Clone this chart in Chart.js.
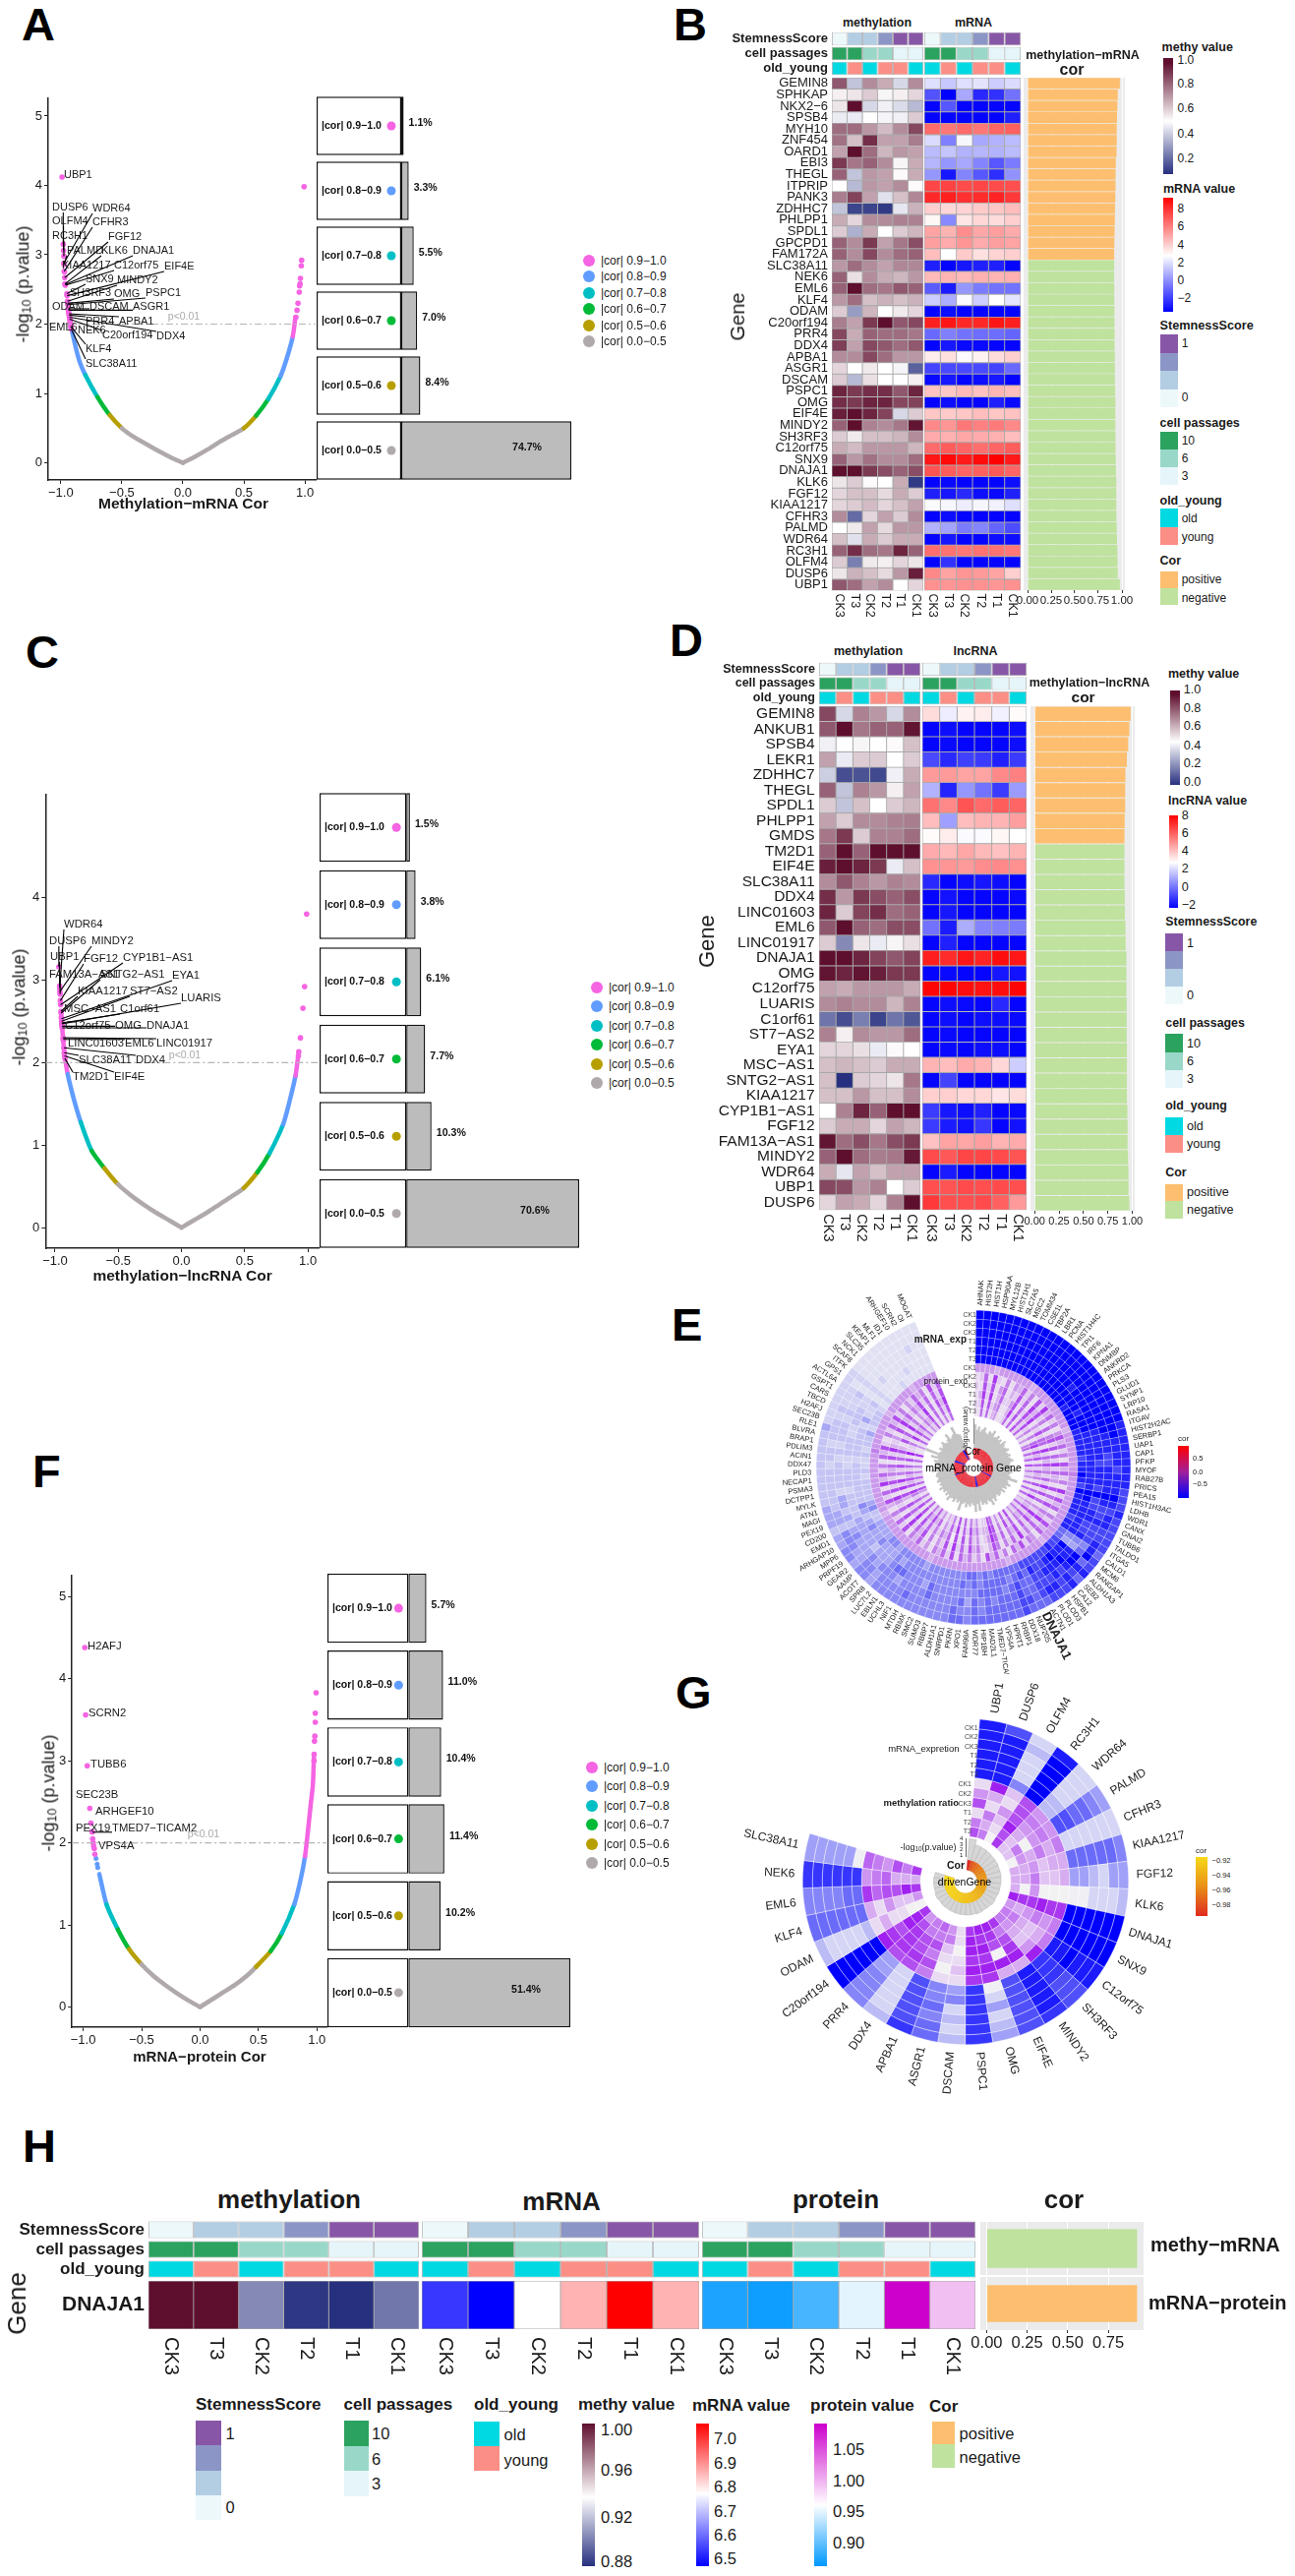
<!DOCTYPE html>
<html>
<head>
<meta charset="utf-8">
<title>DNAJA1 multi-omics panels</title>
<script src="https://cdn.jsdelivr.net/npm/chart.js@4"></script>
<style>
html, body { margin: 0; background: #fff; }
#page { position: relative; width: 1317px; height: 2619px; overflow: hidden; font-family: "Liberation Sans", Arial, sans-serif; }
canvas { position: absolute; }
.t { position: absolute; white-space: nowrap; line-height: 1; color: #1a1a1a; }
.b { position: absolute; }
sub { font-size: 70%; vertical-align: -15%; }
</style>
</head>
<body>
<div id="page"></div>
<script>
// ---------- shared categories ----------
var samples = ['CK3', 'T3', 'CK2', 'T2', 'T1', 'CK1'];
var binLabels = ['|cor| 0.9−1.0', '|cor| 0.8−0.9', '|cor| 0.7−0.8', '|cor| 0.6−0.7', '|cor| 0.5−0.6', '|cor| 0.0−0.5'];
var corTicks = [-1, -0.5, 0, 0.5, 1];
var pTicksFive = [0, 1, 2, 3, 4, 5];
var pTicksFour = [0, 1, 2, 3, 4];
var stemnessScore = [0, 0.33, 0.33, 0.67, 1, 1];
var cellPassages = [10, 10, 6, 6, 3, 3];
var ageGroup = ['old', 'young', 'old', 'young', 'young', 'old'];
var annotLabels = ['StemnessScore', 'cell passages', 'old_young'];

// ---------- panel A ----------
var pctA = [1.1, 3.3, 5.5, 7.0, 8.4, 74.7];
var curveLeftA = [[-0.925, 2.1], [-0.905, 1.875], [-0.85, 1.48], [-0.8, 1.27], [-0.7, 0.95], [-0.6, 0.69], [-0.5, 0.5], [-0.4, 0.37], [-0.3, 0.27], [-0.2, 0.17], [-0.1, 0.08], [0, 0]];
var curveRightA = [[0, 0], [0.1, 0.09], [0.2, 0.19], [0.3, 0.3], [0.4, 0.4], [0.5, 0.5], [0.6, 0.68], [0.7, 0.92], [0.8, 1.25], [0.85, 1.5], [0.9, 1.82], [0.922, 2.1]];
var dotsRightA = [[0.993, 3.98], [0.973, 2.92], [0.97, 2.84], [0.963, 2.66], [0.96, 2.58], [0.956, 2.55], [0.953, 2.46], [0.943, 2.3], [0.935, 2.2], [0.926, 2.1]];
var genesA = ['UBP1', 'DUSP6', 'OLFM4', 'RC3H1', 'WDR64', 'PALMD', 'CFHR3', 'KIAA1217', 'FGF12', 'KLK6', 'DNAJA1', 'SNX9', 'C12orf75', 'SH3RF3', 'MINDY2', 'EIF4E', 'OMG', 'PSPC1', 'DSCAM', 'ASGR1', 'ODAM', 'APBA1', 'PRR4', 'DDX4', 'C20orf194', 'NEK6', 'EML6', 'KLF4', 'SLC38A11'];
var corA = [-0.99, -0.98, -0.978, -0.975, -0.975, -0.974, -0.972, -0.97, -0.968, -0.966, -0.964, -0.95, -0.963, -0.948, -0.945, -0.948, -0.944, -0.943, -0.94, -0.938, -0.937, -0.933, -0.932, -0.93, -0.928, -0.925, -0.922, -0.92, -0.915];
var logpA = [4.12, 3.15, 3.06, 2.98, 2.88, 2.86, 2.76, 2.75, 2.67, 2.58, 2.57, 2.44, 2.56, 2.42, 2.33, 2.41, 2.3, 2.28, 2.22, 2.2, 2.18, 2.15, 2.13, 2.1, 2.07, 2.03, 2.0, 1.97, 1.93];
var labelXA = [65, 53, 53, 53, 94, 68, 94, 63, 110, 103, 135, 87, 116, 71, 119, 167, 116, 148, 91, 135, 53, 121, 87, 159, 104, 79, 50, 87, 87];
var labelYA = [178, 211, 225, 240, 212, 255, 226, 270, 241, 255, 255, 284, 270, 298, 285, 271, 299, 298, 312, 312, 312, 327, 327, 342, 341, 336, 333, 355, 370];

// ---------- panel C ----------
var pctC = [1.5, 3.8, 6.1, 7.7, 10.3, 70.6];
var curveLeftC = [[-0.945, 2.45], [-0.928, 2.15], [-0.9, 1.86], [-0.85, 1.55], [-0.797, 1.28], [-0.71, 0.93], [-0.61, 0.72], [-0.503, 0.525], [-0.4, 0.39], [-0.3, 0.28], [-0.2, 0.18], [-0.1, 0.09], [0, 0]];
var curveRightC = [[0, 0], [0.1, 0.09], [0.2, 0.18], [0.3, 0.28], [0.4, 0.38], [0.493, 0.48], [0.6, 0.67], [0.696, 0.9], [0.804, 1.25], [0.85, 1.5], [0.902, 1.84], [0.925, 2.1]];
var dotsRightC = [[0.99, 3.8], [0.974, 2.92], [0.961, 2.66], [0.941, 2.3], [0.928, 2.13], [0.925, 2.08]];
var genesC = ['DUSP6', 'UBP1', 'WDR64', 'MINDY2', 'FAM13A−AS1', 'FGF12', 'CYP1B1−AS1', 'KIAA1217', 'SNTG2−AS1', 'MSC−AS1', 'EYA1', 'ST7−AS2', 'C1orf61', 'LUARIS', 'C12orf75', 'OMG', 'DNAJA1', 'LINC01917', 'EML6', 'LINC01603', 'DDX4', 'SLC38A11', 'EIF4E', 'TM2D1'];
var corC = [-0.97, -0.964, -0.963, -0.962, -0.96, -0.958, -0.956, -0.953, -0.952, -0.95, -0.949, -0.948, -0.947, -0.946, -0.945, -0.944, -0.943, -0.936, -0.935, -0.934, -0.93, -0.927, -0.925, -0.922];
var logpC = [3.16, 2.93, 2.9, 2.86, 2.83, 2.75, 2.7, 2.62, 2.6, 2.55, 2.53, 2.5, 2.48, 2.47, 2.45, 2.44, 2.42, 2.3, 2.28, 2.27, 2.18, 2.12, 2.08, 2.05];
var labelXC = [50, 51, 65, 93, 50, 85, 125, 79, 102, 65, 175, 132, 122, 184, 66, 117, 149, 159, 127, 69, 138, 80, 116, 74];
var labelYC = [957, 973, 940, 957, 991, 975, 974, 1008, 991, 1026, 992, 1008, 1026, 1015, 1043, 1043, 1043, 1061, 1061, 1061, 1078, 1078, 1095, 1095];

// ---------- panel F ----------
var pctF = [5.7, 11.0, 10.4, 11.4, 10.2, 51.4];
var curveLeftF = [[-0.862, 1.62], [-0.8, 1.25], [-0.703, 0.945], [-0.608, 0.706], [-0.502, 0.52], [-0.4, 0.38], [-0.3, 0.27], [-0.2, 0.17], [-0.1, 0.08], [0, 0]];
var curveRightF = [[0, 0], [0.1, 0.09], [0.2, 0.18], [0.3, 0.27], [0.4, 0.38], [0.48, 0.49], [0.604, 0.68], [0.7, 0.9], [0.806, 1.25], [0.86, 1.55], [0.898, 1.835], [0.922, 2.13], [0.947, 2.47], [0.965, 2.7], [0.975, 3.08]];
var dotsRightF = [[0.993, 3.83], [0.986, 3.58], [0.986, 3.47], [0.982, 3.3], [0.979, 3.24], [0.976, 3.08], [0.975, 3.0]];
var dotsLeftF = [[-0.919, 2.05], [-0.915, 2.0], [-0.91, 1.96], [-0.9, 1.86]];
var dotsBlueF = [[-0.89, 1.81], [-0.88, 1.74], [-0.875, 1.7]];
var genesF = ['H2AFJ', 'SCRN2', 'TUBB6', 'SEC23B', 'ARHGEF10', 'PEX19', 'TMED7−TICAM2', 'VPS4A'];
var corF = [-0.986, -0.979, -0.965, -0.943, -0.933, -0.925, -0.921, -0.905];
var logpF = [4.38, 3.56, 2.94, 2.42, 2.24, 2.14, 2.13, 1.93];
var labelXF = [89, 90, 92, 77, 97, 77, 114, 100];
var labelYF = [1674, 1742, 1794, 1825, 1842, 1859, 1859, 1877];

// ---------- panel B ----------
var genesB = ['GEMIN8', 'SPHKAP', 'NKX2−6', 'SPSB4', 'MYH10', 'ZNF454', 'OARD1', 'EBI3', 'THEGL', 'ITPRIP', 'PANK3', 'ZDHHC7', 'PHLPP1', 'SPDL1', 'GPCPD1', 'FAM172A', 'SLC38A11', 'NEK6', 'EML6', 'KLF4', 'ODAM', 'C20orf194', 'PRR4', 'DDX4', 'APBA1', 'ASGR1', 'DSCAM', 'PSPC1', 'OMG', 'EIF4E', 'MINDY2', 'SH3RF3', 'C12orf75', 'SNX9', 'DNAJA1', 'KLK6', 'FGF12', 'KIAA1217', 'CFHR3', 'PALMD', 'WDR64', 'RC3H1', 'OLFM4', 'DUSP6', 'UBP1'];
var methyB = [
  [.82, .38, .72, .66, .42, .72], [.53, .55, .6, .52, .53, .58], [.55, 1, .42, .47, .43, .36], [.46, .46, .5, .48, .47, .6], [.78, .78, .7, .63, .72, .85],
  [.77, .62, .9, .68, .68, .75], [.68, 1, .78, .64, .7, .68], [.88, .76, .8, .72, .52, .66], [.8, .38, .7, .68, .51, .66], [.5, .36, .7, .68, .72, .51],
  [.75, .86, .68, .44, .62, .73], [.38, .12, .12, .1, .45, .65], [.66, .58, .72, .72, .74, .74], [.6, .34, .66, .5, .6, .64], [.8, .72, .88, .68, .76, .84],
  [.8, .72, .85, .72, .78, .8], [.7, .78, .72, .68, .73, .73], [.8, .56, .72, .66, .64, .7], [.8, .98, .78, .76, .82, .8], [.7, .78, .62, .65, .62, .65],
  [.6, .3, .64, .5, .54, .58], [.75, .68, .88, 1, .82, .85], [.85, .66, .8, .78, .78, .76], [.87, .68, .85, .82, .78, .82], [.72, .72, .85, .78, .7, .7],
  [.58, .5, .54, .5, .48, .18], [.6, .36, .56, .5, .5, .53], [.92, .88, .9, .9, .82, .92], [.9, .88, .92, .92, .85, .86], [.93, 1, .92, .86, .42, .6],
  [.8, 1, .74, .72, .76, .95], [.6, .54, .62, .62, .64, .72], [.66, .63, .7, .7, .7, .64], [.8, .7, .77, .72, .72, .78], [1, .98, .88, .84, .8, .84],
  [.55, .6, .51, .5, .66, .1], [.58, .62, .62, .57, .66, .6], [.58, .6, .63, .58, .62, .68], [.72, .2, .58, .68, .6, .72], [.5, .54, .68, .57, .7, .7],
  [.62, .44, .66, .6, .66, .66], [.8, .9, .78, .76, .92, .8], [.6, .24, .54, .53, .58, .55], [.55, .65, .62, .57, .7, .93], [.82, .78, .68, .72, .5, .58]
];
var mrnaB = [
  [2.4, 1.9, 2.4, 2.5, 2, 2.3], [-.7, -2.5, 1.2, -1.6, -1.4, 0], [-2.4, -.6, -2.4, -2.4, -2.4, -2.4], [-2.4, -2.4, -2.4, -2.4, -2.4, -1.8], [6.5, 6.2, 6.5, 6.2, 6.6, 6.7],
  [2.3, .3, 2.9, 1.2, 1.4, 1.6], [1.6, 1.8, 1.4, 1.5, 1.4, 1.6], [1.5, .8, 1.2, .4, -.6, .2], [.8, -2, .4, -.6, -1.5, .7], [7.3, 7.4, 7.2, 7.3, 7.2, 7.1],
  [8, 8.2, 7.8, 7.9, 8.1, 7.6], [4.2, 4, 4.1, 4.3, 4.4, 4.6], [3.3, .5, 3.7, 4, 3.9, 4.2], [5.2, 4.8, 5.7, 5.1, 5.3, 5], [5.3, 5, 5.5, 5, 5.3, 5.2],
  [4.6, 3.1, 4.3, 3.8, 4.1, 4.2], [-1.8, -2.4, -2, -1.8, -1.8, -2.4], [4.7, 4.8, 4.7, 4.9, 4.8, 4.9], [-.5, -1.9, .8, .2, 0, 0], [2, 1.3, 3, 2, 3.1, 2.5],
  [-2.4, -2.2, -2.4, -2.4, -2.4, -2.4], [8.2, 8.4, 8, 8, 8.4, 8.2], [-.2, .3, 0, -.1, -.1, -.3], [-2.4, -2, -2.3, -2.3, -2.4, -2.4], [3.5, 3.8, 3, 3.4, 3.9, 4.2],
  [-1, -.9, -.9, -.9, -1, -.2], [-2.3, -2, -2.4, -2.2, -2, -2.4], [4.5, 4.4, 4.7, 4.5, 4.8, 4.6], [-2.4, -2.2, -2.4, -2.4, -1.8, -2.3], [4.4, 4.3, 4.4, 4.6, 4.4, 4.5],
  [5.8, 5.5, 6.2, 6, 6.1, 5.8], [5, 4.9, 5.1, 5, 4.9, 4.6], [6.5, 6.8, 6.6, 6.4, 6.6, 6.8], [8.4, 8.7, 8.3, 8.6, 8.9, 8.3], [7, 6.8, 6.6, 6.7, 6.9, 6.6],
  [-2.4, -2.3, -2.4, -2.4, -2.4, -2.2], [-1.8, -2, -1.6, -2.2, -2.3, -1.8], [3, 2.9, 2.7, 2.9, 2.8, 2.4], [-2.4, -2.2, -2.4, -2.4, -2.4, -2.4], [1.4, 1.1, .2, .4, -.3, -.8],
  [-2.4, -2, -2.4, -2.4, -2.2, -2.2], [6.4, 6.3, 6.2, 6.3, 6.3, 6.2], [-2.4, -1.4, -2.4, -2.4, -2.4, -2.4], [5.8, 5.2, 5.5, 5.4, 5.2, 4.2], [5.6, 5.5, 5.6, 5.6, 5.5, 5.6]
];
var corB = [.978, .956, .952, .948, .945, .945, .943, .935, .933, .932, .93, .926, .925, .922, .92, .918,
  -.918, -.918, -.919, -.919, -.92, -.921, -.922, -.922, -.925, -.925, -.925, -.928, -.93, -.93, -.93, -.931, -.932, -.934, -.936, -.94, -.94, -.94, -.942, -.945, -.948, -.952, -.954, -.956, -.978];

// ---------- panel D ----------
var genesD = ['GEMIN8', 'ANKUB1', 'SPSB4', 'LEKR1', 'ZDHHC7', 'THEGL', 'SPDL1', 'PHLPP1', 'GMDS', 'TM2D1', 'EIF4E', 'SLC38A11', 'DDX4', 'LINC01603', 'EML6', 'LINC01917', 'DNAJA1', 'OMG', 'C12orf75', 'LUARIS', 'C1orf61', 'ST7−AS2', 'EYA1', 'MSC−AS1', 'SNTG2−AS1', 'KIAA1217', 'CYP1B1−AS1', 'FGF12', 'FAM13A−AS1', 'MINDY2', 'WDR64', 'UBP1', 'DUSP6'];
var methyD = [
  [.85, .42, .74, .7, .42, .72], [.82, 1, .76, .8, .8, .95], [.47, .5, .52, .5, .51, .62], [.68, .46, .6, .6, .5, .6], [.4, .14, .15, .13, .47, .66],
  [.8, .38, .74, .7, .53, .68], [.6, .38, .62, .5, .6, .64], [.68, .6, .72, .72, .74, .75], [.76, .88, .6, .74, .74, .78], [.8, 1, .8, .98, 1, 1],
  [.93, .98, .92, .88, .46, .62], [.72, .82, .74, .7, .74, .72], [.9, .7, .88, .84, .8, .84], [.92, .6, .86, .9, .78, .8], [.82, 1, .8, .78, .84, .84],
  [.6, .26, .55, .46, .52, .56], [1, 1, .92, .86, .82, .86], [.95, .92, .95, .93, .88, .88], [.68, .66, .7, .7, .7, .66], [.72, .74, .72, .72, .64, .74],
  [.22, .14, .24, .12, .22, .16], [.74, .53, .72, .7, .7, .78], [.58, .58, .56, .46, .51, .5], [.62, .64, .62, .6, .66, .66], [.62, .08, .6, .58, .55, .76],
  [.62, .62, .7, .62, .62, .72], [.5, .74, .92, .8, 1, .98], [.6, .66, .66, .58, .68, .64], [.95, .78, .84, .76, .84, .88], [.8, 1, .78, .75, .76, .94],
  [.66, .45, .68, .62, .68, .68], [.85, .84, .7, .74, .5, .6], [.58, .68, .66, .58, .74, .97]
];
var lncD = [
  [3.9, 2.7, 3.4, 3.5, 2.8, 3.2], [-2.4, -2.2, -2.4, -2.4, -2.4, -2.2], [-2.4, -2.3, -2.4, -2.4, -2.4, -2.2], [-.9, -1.6, -1.1, -1.2, -1.8, -1.2], [5.4, 5.4, 5.2, 5.2, 5.8, 6],
  [1.4, -1.7, .8, 0, -1.2, .9], [6.3, 5.8, 7, 6.5, 6.8, 6.6], [4.6, 1, 4.6, 4.8, 4.8, 5.3], [3.2, 3.5, 3, 3, 3.3, 3.1], [5, 4.7, 5.1, 4.7, 4.5, 4.8],
  [5.6, 5.5, 5.4, 5.7, 5.8, 5.6], [-1.6, -2.4, -2.2, -2, -2.2, -2.4], [-2.4, -2.1, -2.4, -2.4, -2.4, -2.3], [-2.4, -2, -2.4, -2.4, -2.4, -2.4], [0, -1.9, 1.3, .4, .3, .2],
  [-2.4, -1.8, -2.4, -2.4, -2.4, -2.4], [8.2, 7.9, 8.4, 8.1, 8.6, 8.4], [-2.4, -2.3, -2.4, -2.4, -2, -2.1], [8.8, 8.8, 8.6, 8.5, 8.6, 8.8], [-2.4, -2.2, -2.3, -2.4, -1.6, -2.4],
  [-2.4, -2.2, -2.4, -2.2, -2.2, -2.3], [-2.4, -2.3, -2.4, -2.4, -2.4, -2.4], [-2.4, -2.3, -2.4, -2.2, -2.2, -2.4], [4.8, 4.6, 5, 4.8, 4, 2], [-2.4, -1, -2.4, -2.4, -2.4, -2.4],
  [4.2, 4.2, 4, 4, 3.7, 3.9], [-1.2, -2, -2.2, -1.8, -2.4, -2.3], [-1.2, -1.9, -2.1, -1.3, -2.4, -2.1], [4.5, 5.2, 5.1, 5.3, 4.8, 5], [7.2, 6.9, 7.3, 7.3, 7.2, 7],
  [-2.4, -1.9, -2.4, -2.4, -2.4, -2.4], [7.1, 7, 7.2, 7.1, 7.2, 7.1], [7.6, 7.1, 7.1, 7.2, 6.7, 5.4]
];
var corD = [.983, .97, .958, .945, .93, .928, .928, .922, .92,
  -.92, -.92, -.92, -.923, -.925, -.93, -.932, -.94, -.94, -.94, -.943, -.943, -.943, -.945, -.945, -.945, -.945, -.95, -.952, -.952, -.957, -.96, -.962, -.97];

// ---------- panel H ----------
var methyH = [[1, 1, .905, .882, .88, .9]];
var mrnaH = [[6.56, 6.5, 6.78, 6.86, 7.05, 6.86]];
var proteinH = [[.89, .885, .905, .96, 1.09, 1]];
var corH = [-.928, .928];
var corLabelsH = ['methy−mRNA', 'mRNA−protein'];

// ---------- panel E ----------
var genesE = [
  'AHNAK', 'HIST2H', 'HIST1H', 'HSP90AA', 'MYL12B', 'HIST1H1', 'SLC7A5', 'MSC2', 'TOMM34', 'CSE1L',
  'TBP2A', 'LBR1', 'PCNA', 'HIST1H4C', 'TPI1', 'IRF6', 'KPNA1', 'DNMBP', 'ANKRD2', 'PRKCA',
  'PLS3', 'GLUD1', 'SYNP1', 'LRP10', 'RASA1', 'ITGAV', 'HIST2H2AC', 'SERBP1', 'UAP1', 'CAP1',
  'PFKP', 'MYOF', 'RAB27B', 'PRICS', 'PEA15', 'HIST1H3AC', 'LDHB', 'WDR1', 'CANX', 'GNAI2',
  'TUBB6', 'TALDO1', 'ITGA5', 'CALD1', 'MCM6', 'RANGAP1', 'ALDH1A3', 'SEB2', 'CA12', 'HSPB1',
  'PLOD3', 'PLOD1', 'ACTN1', 'DNAJA1', 'NUP205', 'DDX18', 'RRBP1', 'HPRT1', 'VPS4A', 'TMED7−TICAM2',
  'MAD2L1', 'HIP1BH', 'WDR77', 'FAM98A', 'XPO1', 'PKRN', 'SNRPD1', 'ALDH1A1', 'RBBP7', 'SUMO3',
  'SMC2', 'RBMX', 'MTDH', 'NIF1', 'UCHL3', 'EBLN1', 'LUC7L2', 'SPR8', 'ACOT7', 'AAMP',
  'GEAR2', 'PRPF19', 'MPP6', 'ARHGAP10', 'EMD1', 'CD200', 'PEX19', 'MAGI', 'ATN1', 'MYLK',
  'DCTPP1', 'PSMA3', 'NECAP1', 'PLD3', 'DDX47', 'ACIN1', 'PDLIM3', 'BRAP1', 'BLVRA', 'RLE1',
  'SEC23B', 'H2AFJ', 'TBCD', 'CARS', 'GSPT1', 'ACTL6A', 'GPS1', 'ITFK', 'SCAF8', 'NCK1',
  'SLC35', 'KEAP1', 'MLF1', 'ID1', 'ARHGEF10', 'SCRN2', 'OI', 'MOGAT'
];
// levels 0-9, one string per ring, outer ring (CK1) first, groups of ten sectors
var mrnaRingsE = [
  '9999999999 9999999999 9999988888 8888777877 7776778687 7766676666 6665665555 5555555455 4554434443 3333333334 2222222211 11111111',
  '9999999999 9999999999 9999999888 8788898788 7788968787 8876776666 6565565555 5565555455 4455534433 3333233233 3232221211 11111111',
  '9999999999 9999999999 9999998887 7888898778 7775699878 7776676665 6564655556 5555455545 4445434344 2333323233 3232231211 11111211',
  '9999999999 9999999899 9999988888 7888797788 7785488988 8776676566 6655555556 4555665444 3444443333 2333223332 2333221212 11111111',
  '9999999999 9999999999 9899988888 8888899888 8885498898 7786765666 6565655555 5555545444 5445434533 3333323333 3242231211 11121111',
  '9999999999 9999999998 9999888887 8898798888 7886677877 7777666665 6566555555 5455555455 4444335433 3323223233 4233321211 12111111'
];
var proteinRingsE = [
  '4444344444 4434444444 4443444444 4454444444 4444444344 4444434444 4444444444 4344444444 4444344444 4444444544 4444434444 44344444',
  '1261821514 3625172836 2514736251 7362518273 6152736145 2736152637 1425361726 3514263517 2625137261 8362516372 1526372514 26351726',
  '2172714613 2726183725 1615727162 8263417162 7253826252 8262515731 2537262817 2415173628 1716248172 7253617283 2417283625 37261627',
  '1382813622 4716273814 2726618263 7352628271 6142837261 7351626842 1426171706 3525262718 2627137182 8152716273 1726182514 28161738',
  '2271724511 3827162725 1516827371 6263517162 8243726351 6271517833 2537261826 2416373617 1726258173 7362617192 2518273625 37161627',
  '1161613411 2616172614 1415616261 7252416161 6132625241 7161416722 1425161715 2314262516 1615147162 6251516181 1416162514 26151516'
];
var logpE = [
  3.2, 2.4, 2.9, 2.2, 2.6, 3.0, 2.3, 2.1, 2.7, 2.5,
  3.1, 2.2, 2.4, 2.8, 2.3, 2.6, 2.1, 2.9, 2.5, 2.2,
  2.4, 2.7, 2.1, 2.3, 2.6, 2.2, 2.5, 2.8, 2.3, 2.1,
  2.4, 2.2, 3.3, 2.6, 2.3, 2.1, 2.5, 3.6, 2.2, 2.4,
  2.9, 2.3, 2.6, 2.1, 2.7, 2.2, 2.4, 2.5, 2.1, 2.3,
  2.8, 2.2, 3.1, 2.4, 2.1, 2.6, 2.3, 2.5, 1.9, 3.3,
  2.2, 3.4, 2.4, 2.1, 2.6, 2.3, 2.8, 2.1, 2.4, 3.5,
  2.2, 2.5, 2.1, 2.7, 2.3, 2.4, 3.0, 2.2, 2.6, 2.1,
  2.5, 2.3, 2.8, 2.2, 2.4, 2.1, 2.6, 2.3, 2.2, 2.5,
  2.4, 2.1, 3.0, 2.3, 2.6, 2.2, 2.4, 2.7, 2.1, 3.3,
  2.4, 4.4, 2.3, 2.1, 2.6, 2.2, 2.4, 2.8, 2.3, 2.1,
  2.5, 3.2, 2.2, 2.4, 2.6, 3.6, 2.3, 2.1
];
var negativeE = ['SCRN2', 'H2AFJ', 'TUBB6', 'VPS4A', 'TMED7−TICAM2', 'SEC23B', 'PEX19', 'ARHGEF10'];

// ---------- panel G ----------
var genesG = ['UBP1', 'DUSP6', 'OLFM4', 'RC3H1', 'WDR64', 'PALMD', 'CFHR3', 'KIAA1217', 'FGF12', 'KLK6', 'DNAJA1', 'SNX9', 'C12orf75', 'SH3RF3', 'MINDY2', 'EIF4E', 'OMG', 'PSPC1', 'DSCAM', 'ASGR1', 'APBA1', 'DDX4', 'PRR4', 'C20orf194', 'ODAM', 'KLF4', 'EML6', 'NEK6', 'SLC38A11'];
// levels 0-9 for each gene, outer ring (CK1) to inner ring (T3)
var mrnaSectorsG = ['888888', '688888', '121114', '899999', '111122', '345566', '111111', '455555', '331233', '211100', '999999', '999999', '888988', '666777', '788888', '666666', '321310', '777777', '212143', '554544', '766666', '211111', '444433', '999999', '211112', '555555', '444455', '777777', '333330'];
var methySectorsG = ['147157', '931535', '214210', '777978', '454322', '454052', '535340', '332433', '322533', '000403', '889889', '545434', '532355', '942345', '398758', '390789', '898989', '898998', '121011', '101254', '575756', '787755', '788874', '987998', '131100', '314224', '867798', '456333', '654758'];
var logpG = [4.12, 3.15, 3.06, 2.98, 2.88, 2.86, 2.76, 2.75, 2.67, 2.58, 2.57, 2.44, 2.56, 2.42, 2.33, 2.41, 2.3, 2.28, 2.22, 2.2, 2.15, 2.1, 2.13, 2.07, 2.18, 1.97, 2.0, 2.03, 1.93];
var corG = [-.99, -.975, -.97, -.965, -.96, -.958, -.955, -.952, -.95, -.948, -.945, -.943, -.94, -.938, -.936, -.934, -.932, -.93, -.93, -.928, -.926, -.925, -.924, -.923, -.922, -.922, -.921, -.921, -.92];

// ---------- colours ----------
var binColors = ['#f564e3', '#619cff', '#00bfc4', '#00ba38', '#b79f00', '#b0a9ac'];
var stemnessColors = ['#edf8fb', '#b3cde3', '#8c96c6', '#8856a7'];
var passageColors = { 10: '#2ca25f', 6: '#99d8c9', 3: '#e5f5f9' };
var ageColors = { old: '#00d9e2', young: '#fb8f86' };
var POS = '#fdbf6f', NEG = '#bfe29e';
var methyRamp = [[0.08, '#27307f'], [0.5, '#ffffff'], [0.96, '#5f0f2e'], [1, '#5f0f2e']];
var exprRamp = [[-2.5, '#0000ff'], [3.1, '#ffffff'], [8.9, '#ff0000']];
var methyRampH = [[0.88, '#27307f'], [0.938, '#ffffff'], [1, '#5f0f2e']];
var mrnaRampH = [[6.5, '#0000ff'], [6.78, '#ffffff'], [7.05, '#ff0000']];
var proteinRampH = [[0.88, '#0098ff'], [0.97, '#ffffff'], [1.09, '#cc00cc']];
var corRampE = [[-0.9, '#0000ff'], [0.95, '#f42030']];
var corRampG = [[-0.99, '#e02a20'], [-0.955, '#e89018'], [-0.92, '#f8d818']];
var blueLevels = [[0, '#f0f0f4'], [9, '#0000ff']];
var purpleLevels = [[0, '#f2f2f2'], [9, '#a020f0']];
var blueLevelsE = [[0, '#f0f0f4'], [3, '#c4c4f4'], [6, '#6c6cf6'], [9, '#0000ff']];
var purpleLevelsE = [[0, '#f0ecf2'], [2, '#e2ccf0'], [5, '#c080ea'], [9, '#a020f0']];

function hexRgb(h) {
  return [parseInt(h.substr(1, 2), 16), parseInt(h.substr(3, 2), 16), parseInt(h.substr(5, 2), 16)];
}
function ramp(stops, v) {
  if (v <= stops[0][0]) return stops[0][1];
  for (var i = 1; i < stops.length; i++) {
    if (v <= stops[i][0]) {
      var t = (v - stops[i - 1][0]) / (stops[i][0] - stops[i - 1][0]);
      var a = hexRgb(stops[i - 1][1]), b = hexRgb(stops[i][1]);
      return 'rgb(' + a.map(function(c, k) { return Math.round(c + (b[k] - c) * t); }).join(',') + ')';
    }
  }
  return stops[stops.length - 1][1];
}
function digits(s) {
  return s.replace(/\s/g, '').split('').map(Number);
}

// ---------- page helpers ----------
var FONT = '"Liberation Sans", Arial, sans-serif';
Chart.defaults.font.family = FONT;
Chart.defaults.color = '#1a1a1a';
Chart.defaults.animation = false;
Chart.defaults.plugins.legend.display = false;
Chart.defaults.plugins.tooltip.enabled = false;

var page = document.getElementById('page');

function txt(s, x, y, o) {
  o = o || {};
  var d = document.createElement('div');
  d.className = 't';
  d.innerHTML = s;
  d.style.left = x + 'px';
  d.style.top = y + 'px';
  d.style.fontSize = (o.size || 12) + 'px';
  if (o.bold) d.style.fontWeight = 'bold';
  if (o.color) d.style.color = o.color;
  var ax = { l: '0', c: '-50%', r: '-100%' }[o.a || 'l'];
  d.style.transform = 'translate(' + ax + ',-50%)' + (o.rot ? ' rotate(' + o.rot + 'deg)' : '');
  page.appendChild(d);
}
function box(x1, y1, x2, y2, bg, extra) {
  var d = document.createElement('div');
  d.className = 'b';
  d.style.cssText = 'left:' + x1 + 'px;top:' + y1 + 'px;width:' + (x2 - x1) + 'px;height:' + (y2 - y1) + 'px;background:' + bg + ';' + (extra || '');
  page.appendChild(d);
}
function place(left, top, w, h, config) {
  var c = document.createElement('canvas');
  c.width = Math.ceil(w);
  c.height = Math.ceil(h);
  c.style.left = left + 'px';
  c.style.top = top + 'px';
  c.style.width = Math.ceil(w) + 'px';
  c.style.height = Math.ceil(h) + 'px';
  page.appendChild(c);
  config.options.responsive = false;
  new Chart(c, config);
}

// ---------- volcano + |cor| bars (A, C, F) ----------
function binIndex(a) {
  if (a >= 0.9) return 0;
  if (a >= 0.8) return 1;
  if (a >= 0.7) return 2;
  if (a >= 0.6) return 3;
  if (a >= 0.5) return 4;
  return 5;
}
function toXY(list) {
  return list.map(function(p) { return { x: p[0], y: p[1] }; });
}
function curveSet(list) {
  return {
    data: toXY(list), showLine: true, pointRadius: 0, borderWidth: 4.5, tension: 0.25, borderCapStyle: 'round', borderColor: binColors[5],
    segment: { borderColor: function(ctx) { return binColors[binIndex(Math.abs((ctx.p0.parsed.x + ctx.p1.parsed.x) / 2))]; } }
  };
}
function volcano(v) {
  var xMin = (v.left - v.x0) / v.xUnit, xMax = (v.right - v.x0) / v.xUnit;
  var yMax = (v.y0 - v.top) / v.yUnit, yMin = (v.y0 - v.bottom) / v.yUnit;
  var canvasTop = v.top - 2;
  var geneDots = v.cor.map(function(c, i) { return { x: c, y: v.logp[i] }; });
  var datasets = [
    { data: [{ x: xMin, y: 2 }, { x: xMax, y: 2 }], showLine: true, pointRadius: 0, borderWidth: 1.2, borderColor: '#b5b5b5', borderDash: [7, 3, 2, 3] },
    curveSet(v.left1), curveSet(v.right1),
    { data: geneDots.concat(toXY(v.dots)), pointRadius: 2.8, pointBackgroundColor: binColors[0], pointBorderWidth: 0 },
    { data: toXY(v.blueDots || []), pointRadius: 2.5, pointBackgroundColor: binColors[1], pointBorderWidth: 0 }
  ];
  var geneLabels = {
    id: 'geneLabels',
    afterDatasetsDraw: function(chart) {
      var ctx = chart.ctx, sx = chart.scales.x, sy = chart.scales.y;
      ctx.save();
      ctx.font = v.labelFont + 'px ' + FONT;
      ctx.textBaseline = 'middle';
      v.genes.forEach(function(g, i) {
        var lx = v.labelX[i], ly = v.labelY[i] - canvasTop;
        var w = ctx.measureText(g).width;
        var px = sx.getPixelForValue(v.cor[i]), py = sy.getPixelForValue(v.logp[i]);
        var cx = Math.max(lx, Math.min(lx + w, px)), cy = Math.max(ly - 5, Math.min(ly + 5, py));
        if (Math.hypot(cx - px, cy - py) > 9) {
          ctx.strokeStyle = '#000';
          ctx.lineWidth = 1.1;
          ctx.beginPath();
          ctx.moveTo(cx, cy);
          ctx.lineTo(px, py);
          ctx.stroke();
        }
        ctx.fillStyle = '#1a1a1a';
        ctx.fillText(g, lx, ly);
      });
      ctx.restore();
    }
  };
  place(0, canvasTop, v.right + 3, v.bottom - canvasTop + 28, {
    type: 'scatter',
    data: { datasets: datasets },
    plugins: [geneLabels],
    options: {
      layout: { padding: { top: 2, right: 3, left: 0, bottom: 0 } },
      scales: {
        x: {
          type: 'linear', min: xMin, max: xMax,
          afterBuildTicks: function(s) { s.ticks = corTicks.map(function(t) { return { value: t }; }); },
          afterFit: function(s) { s.height = 28; s.paddingLeft = 0; s.paddingRight = 0; },
          ticks: { font: { size: 13 }, maxRotation: 0, padding: 2, callback: function(t) { return t.toFixed(1).replace('-', '−'); } },
          grid: { drawOnChartArea: false, drawTicks: true, tickLength: 4, color: '#222' },
          border: { color: '#222', width: 1.5 }
        },
        y: {
          type: 'linear', min: yMin, max: yMax,
          afterBuildTicks: function(s) { s.ticks = v.yTicks.map(function(t) { return { value: t }; }); },
          afterFit: function(s) { s.width = v.left; s.paddingTop = 0; s.paddingBottom = 0; },
          ticks: { font: { size: 13 }, padding: 2 },
          grid: { drawOnChartArea: false, drawTicks: true, tickLength: 4, color: '#222' },
          border: { color: '#222', width: 1.5 }
        }
      }
    }
  });
  txt(v.xTitle, v.xTitleX, v.xTitleY, { a: 'c', bold: true, size: v.xTitleSize || 15.5 });
  txt('-log<sub>10</sub> (p.value)', v.yTitleX, v.yTitleY, { a: 'c', size: 18, rot: -90 });
  txt('p&lt;0.01', v.pX, v.pY, { a: 'c', size: 10.5, color: '#aaa' });
}
function binBars(b) {
  var maxPct = Math.max.apply(null, b.pct);
  var unit = (b.right - b.zero) / maxPct;
  var leftSpan = (b.zero - b.left) / unit;
  var annotate = {
    id: 'annotate',
    afterDatasetsDraw: function(chart) {
      var ctx = chart.ctx, sx = chart.scales.x;
      var bars = chart.getDatasetMeta(1).data;
      ctx.save();
      ctx.font = 'bold 10.6px ' + FONT;
      ctx.textBaseline = 'middle';
      ctx.fillStyle = '#111';
      bars.forEach(function(el, i) {
        ctx.fillStyle = '#111';
        ctx.fillText(binLabels[i], sx.getPixelForValue(-leftSpan) + 5, el.y);
        var pct = b.pct[i].toFixed(1) + '%';
        var end = sx.getPixelForValue(b.pct[i]);
        ctx.fillText(pct, b.pct[i] > 40 ? end - 60 : end + 5, el.y - 3);
        ctx.beginPath();
        ctx.arc(sx.getPixelForValue(0) - 10, el.y, 4.5, 0, Math.PI * 2);
        ctx.fillStyle = binColors[i];
        ctx.fill();
      });
      ctx.restore();
    }
  };
  var common = { borderColor: '#111', borderWidth: 1.4, borderSkipped: false, barPercentage: b.barH / b.pitch, categoryPercentage: 1, clip: false };
  place(b.left - 3, b.top - (b.pitch - b.barH) / 2, b.right - b.left + 6, b.pitch * 6, {
    type: 'bar',
    data: {
      labels: binLabels,
      datasets: [
        Object.assign({ data: b.pct.map(function() { return -leftSpan; }), backgroundColor: '#ffffff' }, common),
        Object.assign({ data: b.pct, backgroundColor: '#bcbcbc' }, common)
      ]
    },
    plugins: [annotate],
    options: {
      indexAxis: 'y',
      layout: { padding: { left: 3, right: 3 } },
      scales: {
        x: { display: false, stacked: true, min: -leftSpan, max: maxPct },
        y: { display: false, stacked: true }
      }
    }
  });
  // right-hand legend
  binLabels.forEach(function(l, i) {
    var y = b.legTop + i * b.legPitch;
    box(b.legX - 6, y - 6, b.legX + 6, y + 6, binColors[i], 'border-radius:50%;');
    txt(l, b.legX + 12, y, { size: 12 });
  });
}

// ---------- heat blocks (B, D, H) ----------
function heat(h) {
  var gutter = h.gutter || 0;
  var w = h.right - h.left, area = h.bottom - h.top;
  var sampleNames = {
    id: 'sampleNames',
    afterDraw: function(chart) {
      if (!h.sampleFont) return;
      var ctx = chart.ctx, sx = chart.scales.x;
      ctx.save();
      ctx.font = h.sampleFont + 'px ' + FONT;
      ctx.fillStyle = '#1a1a1a';
      ctx.textBaseline = 'middle';
      samples.forEach(function(s, c) {
        ctx.save();
        ctx.translate(sx.getPixelForValue(c + 0.5), chart.chartArea.bottom + h.sampleGap);
        ctx.rotate(Math.PI / 2);
        ctx.fillText(s, 0, 0);
        ctx.restore();
      });
      ctx.restore();
    }
  };
  var below = h.sampleFont ? h.sampleFont * 2.6 + h.sampleGap : 1;
  place(h.left - gutter, h.top - 1, gutter + w + 1, area + 1 + below, {
    type: 'bar',
    data: {
      labels: h.labels,
      datasets: samples.map(function(s, c) {
        return {
          label: s,
          data: h.labels.map(function() { return 1; }),
          backgroundColor: h.labels.map(function(l, r) { return h.color(h.rows[r][c], r); }),
          borderColor: '#a8a8a8', borderWidth: 0.8, borderSkipped: false,
          barPercentage: h.barPct || 1, categoryPercentage: 1
        };
      })
    },
    plugins: [sampleNames],
    options: {
      indexAxis: 'y',
      layout: { padding: { top: 1, right: 1, bottom: below } },
      scales: {
        x: { display: false, stacked: true, min: 0, max: samples.length },
        y: {
          display: gutter > 0, stacked: true,
          afterFit: function(s) { s.width = gutter; s.paddingTop = 0; s.paddingBottom = 0; },
          grid: { display: false, drawTicks: false },
          border: { display: false },
          ticks: { autoSkip: false, padding: h.tickPad || 4, color: '#1a1a1a', font: { size: h.labelFont, weight: h.labelBold ? 'bold' : 'normal' } }
        }
      }
    }
  });
}
function annotColor(v, r) {
  if (r === 0) return stemnessColors[Math.round(v * 3)];
  if (r === 1) return passageColors[v];
  return ageColors[v];
}
function annot(left, right, top, pitch, barH, gutter, font) {
  var rows = [stemnessScore, cellPassages, ageGroup];
  heat({ left: left, right: right, top: top - (pitch - barH) / 2, bottom: top - (pitch - barH) / 2 + pitch * 3, rows: rows, labels: annotLabels, color: annotColor, gutter: gutter, labelFont: font, labelBold: true, barPct: barH / pitch, tickPad: 4 });
}
function corBars(c) {
  var unit = c.one - c.zero;
  var panelBg = {
    id: 'panelBg',
    beforeDraw: function(chart) {
      var a = chart.chartArea;
      chart.ctx.fillStyle = '#ebebeb';
      chart.ctx.fillRect(a.left, a.top, a.width, a.height);
    }
  };
  var pad = 22;
  place(c.left - pad, c.top, c.right - c.left + pad * 2, c.bottom - c.top + (c.ticks ? c.tickH : 0), {
    type: 'bar',
    data: {
      labels: c.labels,
      datasets: [{
        data: c.cor.map(Math.abs),
        backgroundColor: c.cor.map(function(v) { return v >= 0 ? POS : NEG; }),
        barPercentage: c.barPct || 0.94, categoryPercentage: 1
      }]
    },
    plugins: [panelBg],
    options: {
      indexAxis: 'y',
      layout: { padding: { left: pad, right: pad } },
      scales: {
        x: {
          type: 'linear', display: true,
          min: (c.left - c.zero) / unit, max: (c.right - c.zero) / unit,
          afterBuildTicks: function(s) { s.ticks = c.tickList.map(function(t) { return { value: t }; }); },
          afterFit: function(s) { s.height = c.ticks ? c.tickH : 0; s.paddingLeft = 0; s.paddingRight = 0; },
          grid: { color: '#fff', lineWidth: 1, drawTicks: !!c.ticks, tickLength: 3, tickColor: '#333' },
          border: { display: false },
          ticks: { display: !!c.ticks, maxRotation: 0, autoSkip: false, padding: 1, font: { size: c.tickFont }, callback: function(t) { return t.toFixed(2); } }
        },
        y: { display: false }
      }
    }
  });
}
function rampBar(x1, y1, x2, y2, stops) {
  var lo = stops[0][0], hi = stops[stops.length - 1][0];
  var css = stops.map(function(s) { return s[1] + ' ' + ((s[0] - lo) / (hi - lo) * 100) + '%'; }).join(',');
  box(x1, y1, x2, y2, 'linear-gradient(to top,' + css + ')');
}
function swatches(x1, x2, y1, y2, colors) {
  var h = (y2 - y1) / colors.length;
  colors.forEach(function(c, i) { box(x1, y1 + i * h, x2, y1 + (i + 1) * h, c); });
}
function tickText(labels, ys, x, size) {
  labels.forEach(function(l, i) { txt(l, x, ys[i], { size: size }); });
}

// ---------- circular heat maps (E, G) ----------
function ring(colors, gap, weight, line) {
  return {
    data: colors.map(function() { return 1; }).concat([gap]),
    backgroundColor: colors.concat(['rgba(0,0,0,0)']),
    borderColor: colors.map(function() { return 'rgba(255,255,255,0.8)'; }).concat(['rgba(0,0,0,0)']),
    borderWidth: colors.map(function() { return line; }).concat([0]),
    weight: weight
  };
}
function circos(k) {
  var size = k.R * 2 + k.pad * 2;
  var base = k.base / k.barUnit;
  // gray bars underneath, through a polar area chart
  var barSize = k.barArea * 2;
  place(k.cx - k.barArea, k.cy - k.barArea, barSize, barSize, {
    type: 'polarArea',
    data: {
      labels: k.genes.concat(k.gapLabels),
      datasets: [{
        data: k.logp.concat(k.gapLabels.map(function() { return -base; })),
        backgroundColor: k.barColor, borderColor: k.barBorder, borderWidth: k.barLine
      }]
    },
    options: {
      scales: { r: { display: false, min: -base, max: (k.barArea - k.base) / k.barUnit, startAngle: k.start } }
    }
  });
  var datasets = [];
  k.outer.forEach(function(c) { datasets.push(ring(c, k.gapLabels.length, k.ringW, k.line)); });
  k.inner.forEach(function(c) { datasets.push(ring(c, k.gapLabels.length, k.ringW, k.line)); });
  datasets.push({ data: [1], backgroundColor: 'rgba(0,0,0,0)', borderWidth: 0, weight: k.spacer });
  datasets.push(ring(k.corColors, k.gapLabels.length, k.corW, 0));
  datasets.push({ data: [1], backgroundColor: '#ffffff', borderWidth: 0, weight: k.hole });
  var names = {
    id: 'names',
    afterDraw: function(chart) {
      var ctx = chart.ctx;
      var arcs = chart.getDatasetMeta(0).data;
      ctx.save();
      ctx.textBaseline = 'middle';
      ctx.fillStyle = '#222';
      k.genes.forEach(function(g, i) {
        var a = arcs[i], mid = (a.startAngle + a.endAngle) / 2;
        var big = g === k.bigGene;
        ctx.font = (big ? 'bold ' + k.bigFont : k.labelFont) + 'px ' + FONT;
        var r = a.outerRadius + k.labelGap;
        ctx.save();
        ctx.translate(a.x + Math.cos(mid) * r, a.y + Math.sin(mid) * r);
        if (Math.cos(mid) >= 0) {
          ctx.rotate(mid);
          ctx.textAlign = 'left';
        } else {
          ctx.rotate(mid + Math.PI);
          ctx.textAlign = 'right';
        }
        ctx.fillText(g, 0, 0);
        ctx.restore();
      });
      ctx.restore();
    }
  };
  place(k.cx - size / 2, k.cy - size / 2, size, size, {
    type: 'doughnut',
    data: { labels: k.genes.concat(['gap']), datasets: datasets },
    plugins: [names],
    options: {
      cutout: 0, rotation: k.start,
      layout: { padding: k.pad }
    }
  });
}

// ---------- panel letters ----------
[['A', 22, 24], ['B', 685, 24], ['C', 26, 662], ['D', 681, 650], ['E', 683, 1346], ['F', 33, 1495], ['G', 687, 1720], ['H', 23, 2181]].forEach(function(p) {
  txt(p[0], p[1], p[2], { size: 47, bold: true, color: '#000' });
});

// ---------- A ----------
volcano({
  left: 49, right: 322, top: 98, bottom: 487.5, x0: 186.5, xUnit: 124.6, y0: 470, yUnit: 70.8,
  left1: curveLeftA, right1: curveRightA, dots: dotsRightA, genes: genesA, cor: corA, logp: logpA, labelX: labelXA, labelY: labelYA,
  labelFont: 11, yTicks: pTicksFive, xTitle: 'Methylation−mRNA Cor', xTitleX: 186.5, xTitleY: 512,
  yTitleX: 24, yTitleY: 289, pX: 187, pY: 321
});
binBars({ pct: pctA, left: 322, zero: 408, right: 581, top: 98, pitch: 66, barH: 59.5, legX: 599, legTop: 265, legPitch: 16.4 });

// ---------- C ----------
volcano({
  left: 46.3, right: 324.5, top: 806, bottom: 1268.7, x0: 184.8, xUnit: 128.8, y0: 1247.7, yUnit: 84.2,
  left1: curveLeftC, right1: curveRightC, dots: dotsRightC, genes: genesC, cor: corC, logp: logpC, labelX: labelXC, labelY: labelYC,
  labelFont: 11.3, yTicks: pTicksFour, xTitle: 'methylation−lncRNA Cor', xTitleX: 185.6, xTitleY: 1297,
  yTitleX: 20, yTitleY: 1024, pX: 188, pY: 1072
});
binBars({ pct: pctC, left: 324.5, zero: 412.5, right: 588, top: 806, pitch: 78.5, barH: 70, legX: 607, legTop: 1004, legPitch: 19.4 });

// ---------- F ----------
volcano({
  left: 73.2, right: 332.5, top: 1600, bottom: 2061, x0: 203.7, xUnit: 119.1, y0: 2040.4, yUnit: 83.8,
  left1: curveLeftF, right1: curveRightF, dots: dotsRightF.concat(dotsLeftF), blueDots: dotsBlueF, genes: genesF, cor: corF, logp: logpF, labelX: labelXF, labelY: labelYF,
  labelFont: 11.3, yTicks: pTicksFive, xTitle: 'mRNA−protein Cor', xTitleX: 203, xTitleY: 2090, xTitleSize: 15,
  yTitleX: 50, yTitleY: 1823, pX: 207, pY: 1864
});
binBars({ pct: pctF, left: 332.5, zero: 414.6, right: 578.7, top: 1600, pitch: 78.1, barH: 70.4, legX: 602, legTop: 1797, legPitch: 19.4 });

// ---------- B ----------
function methyColor(v) { return ramp(methyRamp, v); }
function exprColor(v) { return ramp(exprRamp, v); }
annot(845.6, 938, 33, 15, 13.4, 110, 13);
annot(940.3, 1037.5, 33, 15, 13.4, 0, 13);
heat({ left: 845.6, right: 938, top: 79, bottom: 600, rows: methyB, labels: genesB, color: methyColor, gutter: 110, labelFont: 13, tickPad: 4, sampleFont: 12.5, sampleGap: 3 });
heat({ left: 940.3, right: 1037.5, top: 79, bottom: 600, rows: mrnaB, labels: genesB, color: exprColor, sampleFont: 12.5, sampleGap: 3 });
corBars({ left: 1041, right: 1144, top: 79, bottom: 600, zero: 1045, one: 1141, cor: corB, labels: genesB, ticks: true, tickH: 20, tickFont: 11.5, tickList: [0, 0.25, 0.5, 0.75, 1] });
txt('methylation', 892, 23, { a: 'c', bold: true, size: 12.5 });
txt('mRNA', 990, 23, { a: 'c', bold: true, size: 12.5 });
txt('methylation−mRNA', 1101, 55.5, { a: 'c', bold: true, size: 12.5 });
txt('cor', 1090, 71, { a: 'c', bold: true, size: 16 });
txt('Gene', 750, 322, { a: 'c', size: 20, rot: -90 });
txt('methy value', 1181.6, 47.6, { bold: true, size: 12.5 });
rampBar(1183, 59, 1193, 177, methyRamp);
tickText(['1.0', '0.8', '0.6', '0.4', '0.2'], [60.6, 85.4, 110, 136, 161], 1197.5, 12);
txt('mRNA value', 1183, 192, { bold: true, size: 12.5 });
rampBar(1183, 201, 1193, 316.5, exprRamp);
tickText(['8', '6', '4', '2', '0', '−2'], [212, 230, 249, 267, 285, 303], 1197.5, 12);
txt('StemnessScore', 1179.5, 331, { bold: true, size: 12.7 });
swatches(1179.5, 1197.5, 340, 414, stemnessColors.slice().reverse());
tickText(['1', '0'], [349, 404], 1201.7, 12);
txt('cell passages', 1179.5, 430, { bold: true, size: 12.5 });
swatches(1179.5, 1197.5, 438.5, 493, [passageColors[10], passageColors[6], passageColors[3]]);
tickText(['10', '6', '3'], [448, 466, 484], 1201.7, 12);
txt('old_young', 1179.5, 509, { bold: true, size: 12.5 });
swatches(1179.5, 1197.5, 517, 554, [ageColors.old, ageColors.young]);
tickText(['old', 'young'], [527, 546], 1201.7, 12);
txt('Cor', 1179.5, 570, { bold: true, size: 12.5 });
swatches(1179.5, 1197.5, 581, 615, [POS, NEG]);
tickText(['positive', 'negative'], [589, 608], 1201.7, 12);

// ---------- D ----------
annot(833, 935.7, 673.5, 14.45, 13, 110, 12.5);
annot(938, 1044, 673.5, 14.45, 13, 0, 12.5);
heat({ left: 833, right: 935.7, top: 718.4, bottom: 1230.6, rows: methyD, labels: genesD, color: methyColor, gutter: 120, labelFont: 15.5, tickPad: 4.5, sampleFont: 14.5, sampleGap: 4 });
heat({ left: 938, right: 1044, top: 718.4, bottom: 1230.6, rows: lncD, labels: genesD, color: exprColor, sampleFont: 14.5, sampleGap: 4 });
corBars({ left: 1047.5, right: 1153.5, top: 718.4, bottom: 1230.6, zero: 1051.7, one: 1151, cor: corD, labels: genesD, ticks: true, tickH: 20, tickFont: 11, tickList: [0, 0.25, 0.5, 0.75, 1] });
txt('methylation', 883, 662, { a: 'c', bold: true, size: 12.5 });
txt('lncRNA', 992, 662, { a: 'c', bold: true, size: 12.5 });
txt('methylation−lncRNA', 1108, 693.5, { a: 'c', bold: true, size: 12.5 });
txt('cor', 1101.6, 709, { a: 'c', bold: true, size: 15.5 });
txt('Gene', 718.6, 957, { a: 'c', size: 22, rot: -90 });
txt('methy value', 1188, 685, { bold: true, size: 12.5 });
rampBar(1190, 702, 1200, 798, methyRamp);
tickText(['1.0', '0.8', '0.6', '0.4', '0.2', '0.0'], [700.8, 719.6, 738.4, 757.6, 776.3, 795], 1203.8, 12.6);
txt('lncRNA value', 1188, 814, { bold: true, size: 12.5 });
rampBar(1189, 829, 1197.5, 923, exprRamp);
tickText(['8', '6', '4', '2', '0', '−2'], [829.4, 847, 865, 883, 901.6, 919.6], 1201.7, 12.6);
txt('StemnessScore', 1185.3, 936.7, { bold: true, size: 12.4 });
swatches(1185.3, 1203.3, 948.6, 1021, stemnessColors.slice().reverse());
tickText(['1', '0'], [958.8, 1011.8], 1207, 12.6);
txt('cell passages', 1185.3, 1040, { bold: true, size: 12.4 });
swatches(1185.3, 1203.3, 1051.4, 1106, [passageColors[10], passageColors[6], passageColors[3]]);
tickText(['10', '6', '3'], [1060.8, 1079, 1097], 1207, 12.6);
txt('old_young', 1185.3, 1123.7, { bold: true, size: 12.4 });
swatches(1185.3, 1203.3, 1135.5, 1171.8, [ageColors.old, ageColors.young]);
tickText(['old', 'young'], [1144.5, 1163], 1207, 12.6);
txt('Cor', 1185.3, 1192, { bold: true, size: 12.4 });
swatches(1185.3, 1203.3, 1203.7, 1238.8, [POS, NEG]);
tickText(['positive', 'negative'], [1211.8, 1230], 1207, 12.6);

// ---------- E ----------
circos({
  cx: 990.3, cy: 1491.7, R: 160, pad: 50, start: 1, genes: genesE, logp: logpE, gapLabels: ['g1', 'g2', 'g3', 'g4', 'g5', 'g6', 'g7', 'g8'],
  outer: mrnaRingsE.map(function(s) { return digits(s).map(function(v) { return ramp(blueLevelsE, v); }); }),
  inner: proteinRingsE.map(function(s) { return digits(s).map(function(v) { return ramp(purpleLevelsE, v); }); }),
  corColors: genesE.map(function(g) { return ramp(corRampE, negativeE.indexOf(g) >= 0 ? -0.9 : 0.95); }),
  ringW: 9, spacer: 32, corW: 11, hole: 9, line: 0.3,
  base: 22, barUnit: 6.8, barArea: 60, barColor: '#c2c2c2', barBorder: '#c2c2c2', barLine: 0.5,
  labelFont: 7.5, labelGap: 5, bigGene: 'DNAJA1', bigFont: 13
});
txt('mRNA_exp', 983, 1361.7, { a: 'r', bold: true, size: 10 });
txt('protein_exp', 984, 1404, { a: 'r', size: 8.5 });
[1336, 1345, 1354, 1362.7, 1371.7, 1380.7].forEach(function(y, i) { txt(['CK1', 'CK2', 'CK3', 'T1', 'T2', 'T3'][i], 993, y, { a: 'r', size: 7, color: '#444' }); });
[1390, 1399, 1407.7, 1416.7, 1425.7, 1434.3].forEach(function(y, i) { txt(['CK1', 'CK2', 'CK3', 'T1', 'T2', 'T3'][i], 993, y, { a: 'r', size: 7, color: '#444' }); });
txt('Cor', 989, 1475.7, { a: 'c', size: 10, color: '#000' });
txt('mRNA_protein Gene', 990, 1491.7, { a: 'c', size: 10.5, color: '#000' });
txt('-log<sub>10</sub>(p.value)', 982, 1451.7, { a: 'c', size: 7, rot: -90 });
box(990, 1441.7, 990.8, 1468, '#888');
txt('cor', 1198, 1463, { size: 8 });
rampBar(1198, 1470, 1209, 1523, [[0, '#0000ff'], [0.5, '#a0209a'], [1, '#ff0000']]);
tickText(['0.5', '0.0', '−0.5'], [1483, 1496.7, 1509], 1213, 7.5);

// ---------- G ----------
circos({
  cx: 981.8, cy: 1913.3, R: 166, pad: 60, start: 5, genes: genesG, logp: logpG, gapLabels: ['g1', 'g2', 'g3', 'g4', 'g5', 'g6', 'g7', 'g8'],
  outer: [0, 1, 2, 3, 4, 5].map(function(r) { return mrnaSectorsG.map(function(s) { return ramp(blueLevels, Number(s[r])); }); }),
  inner: [0, 1, 2, 3, 4, 5].map(function(r) { return methySectorsG.map(function(s) { return ramp(purpleLevels, Number(s[r])); }); }),
  corColors: corG.map(function(v) { return ramp(corRampG, v); }),
  ringW: 10, spacer: 24, corW: 10.3, hole: 11.7, line: 0.5,
  base: 22, barUnit: 5.25, barArea: 50, barColor: '#d6d6d6', barBorder: '#b8b8b8', barLine: 0.6,
  labelFont: 12, labelGap: 8
});
txt('mRNA_expretion', 975.5, 1777.7, { a: 'r', size: 9.5 });
txt('methylation ratio', 975, 1832.7, { a: 'r', bold: true, size: 9.5 });
[1756, 1765, 1774.7, 1784, 1793.7, 1803].forEach(function(y, i) { txt(['CK1', 'CK2', 'CK3', 'T1', 'T2', 'T3'][i], 994.7, y, { a: 'r', size: 7, color: '#444' }); });
[1813, 1822.7, 1832.7, 1842.3, 1851.7, 1861.3].forEach(function(y, i) { txt(['CK1', 'CK2', 'CK3', 'T1', 'T2', 'T3'][i], 988, y, { a: 'r', size: 7, color: '#444' }); });
txt('-log<sub>10</sub>(p.value)', 972.6, 1879, { a: 'r', size: 9 });
[1868.7, 1874.7, 1880.3, 1886].forEach(function(y, i) { txt(String(4 - i), 976, y, { size: 6 }); });
box(981.5, 1868.7, 982.3, 1888, '#666');
txt('Cor', 981, 1896, { a: 'r', bold: true, size: 10.5 });
txt('drivenGene', 981, 1913.3, { a: 'c', size: 10.5, color: '#000' });
txt('cor', 1216, 1881.7, { size: 8 });
rampBar(1215.5, 1888, 1227.7, 1948, [[0, '#e02a20'], [0.5, '#e89018'], [1, '#f8d818']]);
tickText(['−0.92', '−0.94', '−0.96', '−0.98'], [1891.7, 1907, 1922.3, 1937.3], 1232.5, 7.5);

// ---------- H ----------
annot(151, 426, 2258.7, 20, 17.2, 150, 17);
annot(429.4, 711, 2258.7, 20, 17.2, 0, 17);
annot(714, 991.6, 2258.7, 20, 17.2, 0, 17);
heat({ left: 151, right: 426, top: 2319.3, bottom: 2368.3, rows: methyH, labels: ['DNAJA1'], color: function(v) { return ramp(methyRampH, v); }, gutter: 150, labelFont: 21, labelBold: true, tickPad: 4, sampleFont: 20, sampleGap: 8 });
heat({ left: 429.4, right: 711, top: 2319.3, bottom: 2368.3, rows: mrnaH, labels: ['DNAJA1'], color: function(v) { return ramp(mrnaRampH, v); }, sampleFont: 20, sampleGap: 8 });
heat({ left: 714, right: 991.6, top: 2319.3, bottom: 2368.3, rows: proteinH, labels: ['DNAJA1'], color: function(v) { return ramp(proteinRampH, v); }, sampleFont: 20, sampleGap: 8 });
corBars({ left: 996.6, right: 1162, top: 2258.7, bottom: 2312.3, zero: 1003, one: 1167.3, cor: [corH[0]], labels: [corLabelsH[0]], ticks: false, barPct: 0.73, tickList: [0, 0.25, 0.5, 0.75] });
corBars({ left: 996.6, right: 1162, top: 2315.3, bottom: 2369.3, zero: 1003, one: 1167.3, cor: [corH[1]], labels: [corLabelsH[1]], ticks: true, tickH: 30, tickFont: 16.5, barPct: 0.69, tickList: [0, 0.25, 0.5, 0.75] });
txt('methylation', 294, 2236, { a: 'c', bold: true, size: 26 });
txt('mRNA', 571, 2238, { a: 'c', bold: true, size: 26 });
txt('protein', 850, 2236, { a: 'c', bold: true, size: 26 });
txt('cor', 1082, 2236, { a: 'c', bold: true, size: 26 });
txt(corLabelsH[0], 1170, 2281.7, { bold: true, size: 20 });
txt(corLabelsH[1], 1168, 2340.7, { bold: true, size: 20 });
txt('Gene', 17, 2341.7, { a: 'c', size: 26, rot: -90 });
txt('StemnessScore', 199, 2444, { bold: true, size: 17 });
swatches(199, 225, 2461, 2562, stemnessColors.slice().reverse());
tickText(['1', '0'], [2474, 2549], 229.4, 16.5);
txt('cell passages', 349.6, 2444, { bold: true, size: 17 });
swatches(349.6, 374.8, 2461, 2537.7, [passageColors[10], passageColors[6], passageColors[3]]);
tickText(['10', '6', '3'], [2474.3, 2500, 2525], 378, 16.5);
txt('old_young', 482, 2444, { bold: true, size: 17 });
swatches(482, 508, 2461.7, 2512, [ageColors.old, ageColors.young]);
tickText(['old', 'young'], [2475, 2501], 512.6, 16.5);
txt('methy value', 588, 2444, { bold: true, size: 17 });
rampBar(591.6, 2464, 605, 2609, methyRampH);
tickText(['1.00', '0.96', '0.92', '0.88'], [2470, 2511, 2559, 2604], 611, 16.5);
txt('mRNA value', 704, 2445, { bold: true, size: 17 });
rampBar(707.6, 2464, 721, 2609, mrnaRampH);
tickText(['7.0', '6.9', '6.8', '6.7', '6.6', '6.5'], [2479, 2504, 2528, 2552.7, 2576.7, 2601], 726, 16.5);
txt('protein value', 824, 2445, { bold: true, size: 17 });
rampBar(827.7, 2464, 841, 2609, proteinRampH);
tickText(['1.05', '1.00', '0.95', '0.90'], [2490, 2521.7, 2553, 2585], 847, 16.5);
txt('Cor', 945, 2446, { bold: true, size: 17 });
swatches(948, 971, 2462, 2508.7, [POS, NEG]);
tickText(['positive', 'negative'], [2474, 2497.7], 975.6, 16.5);
</script>
</body>
</html>
